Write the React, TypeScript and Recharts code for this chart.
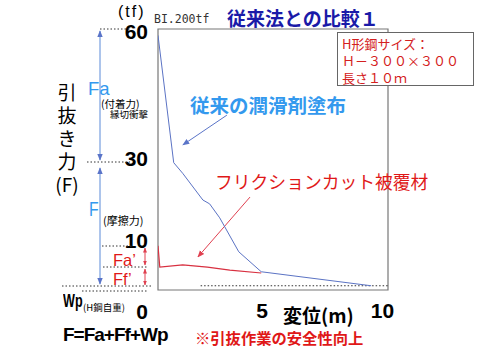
import React from 'react';
import { ComposedChart, Line, XAxis, YAxis, ReferenceArea, ReferenceLine } from 'recharts';

// 変位(m) / 引抜き力(tf) の読み取り値
const conventionalX = [0, 0.7, 1.1, 2.0, 2.3, 2.75, 3.6, 4.6, 9.5];
const conventionalY = [59, 29, 26.5, 20.2, 19.3, 16, 8, 3.3, 0];
const frictionCutX = [0, 0.08, 1.1, 2.2, 3.2, 4.6];
const frictionCutY = [9.4, 4.4, 4.9, 4.4, 3.7, 3.0];
const xTicks = [5, 10];
const yTicks = [0, 10, 30, 60];

const conventionalData = conventionalX.map((x, i) => ({ x, y: conventionalY[i] }));
const frictionCutData = frictionCutX.map((x, i) => ({ x, y: frictionCutY[i] }));

const JP = '"Noto Sans CJK JP", "Noto Sans", sans-serif';
const NUM = '"Liberation Sans", Arial, sans-serif';
const RED = '#e01818';
const SKY = '#3399ee';

const T = ({ x, y, size, color = '#000', bold = false, font = JP, style = {}, children }: any) => (
  <div
    style={{
      position: 'absolute',
      left: x,
      top: y,
      fontSize: size,
      color,
      fontWeight: bold ? 700 : 400,
      lineHeight: 1,
      whiteSpace: 'nowrap',
      fontFamily: font,
      ...style,
    }}
  >
    {children}
  </div>
);

const renderYTick = (props: any) => {
  const { x, y, payload } = props;
  // 0 は H鋼自重の下に表示されている
  const shift = payload.value === 0 ? 26 : payload.value === 10 ? -3 : 0;
  return (
    <text x={x} y={y + shift} dy="0.355em" textAnchor="end" fontSize={21} fontWeight={600} fontFamily={NUM} fill="#000">
      {payload.value}
    </text>
  );
};

const renderXTick = (props: any) => {
  const { x, y, payload } = props;
  const dx = payload.value === 5 ? -8 : 0;
  return (
    <text x={x + dx} y={y + 20} textAnchor="middle" fontSize={21} fontWeight={600} fontFamily={NUM} fill="#000">
      {payload.value}
    </text>
  );
};

export default function App() {
  return (
    <div style={{ position: 'absolute', left: 0, top: 0, width: 480, height: 360, background: '#fff' }}>
      <ComposedChart width={480} height={360} margin={{ top: 29, right: 92, bottom: 40, left: 98 }}>
        <XAxis
          dataKey="x"
          type="number"
          domain={[0, 10.25]}
          ticks={xTicks}
          height={30}
          axisLine={false}
          tickLine={false}
          tick={renderXTick}
          allowDataOverflow
        />
        <YAxis
          type="number"
          domain={[-1, 60.5]}
          ticks={yTicks}
          width={60}
          axisLine={false}
          tickLine={false}
          tickMargin={4}
          tick={renderYTick}
          allowDataOverflow
        />
        <ReferenceArea x1={0} x2={10.25} y1={-1} y2={60.5} fill="none" stroke="#777" strokeWidth={1.2} />
        <ReferenceLine
          segment={[{ x: 1.9, y: 0 }, { x: 10.25, y: 0 }]}
          stroke="#333"
          strokeDasharray="1.5 2"
        />
        <ReferenceLine
          segment={[{ x: 3.07, y: 40.2 }, { x: 1.11, y: 33.2 }]}
          stroke="#5a74c8"
          markerEnd="url(#arrBlue)"
        />
        <ReferenceLine
          segment={[{ x: 4.1, y: 20.9 }, { x: 1.78, y: 6.8 }]}
          stroke="#e04050"
          markerEnd="url(#arrRed)"
        />
        <Line
          data={conventionalData}
          dataKey="y"
          type="linear"
          stroke="#5b73c4"
          strokeWidth={1}
          dot={false}
          isAnimationActive={false}
        />
        <Line
          data={frictionCutData}
          dataKey="y"
          type="linear"
          stroke="#d83040"
          strokeWidth={1.2}
          dot={false}
          isAnimationActive={false}
        />
      </ComposedChart>

      <svg width={480} height={360} style={{ position: 'absolute', left: 0, top: 0, pointerEvents: 'none' }}>
        <defs>
          <marker id="arrBlue" viewBox="0 0 10 10" refX="9" refY="5" markerWidth="7" markerHeight="7" orient="auto-start-reverse">
            <path d="M0,1 L10,5 L0,9 z" fill="#5a74c8" />
          </marker>
          <marker id="arrRed" viewBox="0 0 10 10" refX="9" refY="5" markerWidth="7" markerHeight="7" orient="auto-start-reverse">
            <path d="M0,1 L10,5 L0,9 z" fill="#e04050" />
          </marker>
          <marker id="arrSmall" viewBox="0 0 10 10" refX="9" refY="5" markerWidth="5" markerHeight="5" orient="auto-start-reverse">
            <path d="M0,1 L10,5 L0,9 z" fill="#e04050" />
          </marker>
        </defs>
        <g stroke="#333" strokeDasharray="1.5 2" strokeWidth={1}>
          <line x1={100} y1={29} x2={130} y2={29} />
          <line x1={87} y1={162} x2={130} y2={162} />
          <line x1={102} y1={246} x2={133} y2={246} />
          <line x1={103} y1={267} x2={147} y2={267} />
          <line x1={62} y1={286} x2={153} y2={286} />
          <line x1={82} y1={291} x2={148} y2={291} />
        </g>
        <line x1={100} y1={31} x2={100} y2={160} stroke="#5a8ad8" markerStart="url(#arrBlue)" markerEnd="url(#arrBlue)" />
        <line x1={100} y1={168} x2={100} y2={284} stroke="#5a8ad8" markerStart="url(#arrBlue)" markerEnd="url(#arrBlue)" />
        <line x1={145} y1={248} x2={145} y2={265} stroke="#e04050" markerStart="url(#arrSmall)" markerEnd="url(#arrSmall)" />
        <line x1={145} y1={269} x2={145} y2={285} stroke="#e04050" markerStart="url(#arrSmall)" markerEnd="url(#arrSmall)" />
      </svg>

      <T x={118} y={4} size={16} font={NUM} style={{ letterSpacing: 2 }}>(tf)</T>
      <T x={154} y={14} size={11.5} color="#333" font='"DejaVu Sans Mono", monospace'>BI.200tf</T>
      <T x={227} y={8} size={19} bold color="#1a1aa8">従来法との比較１</T>

      <div
        style={{
          position: 'absolute',
          left: 337,
          top: 32,
          width: 131,
          height: 50,
          border: '1px solid #666',
          background: '#fff',
          padding: '2px 0 0 4px',
          color: '#d42020',
          fontFamily: JP,
          fontSize: 13,
          lineHeight: '17px',
          whiteSpace: 'nowrap',
        }}
      >
        H形鋼サイズ：
        <br />
        Ｈ－３００×３００
        <br />
        長さ１０ｍ
      </div>

      <T x={190} y={95} size={19.5} bold color={SKY}>従来の潤滑剤塗布</T>
      <T x={215} y={173} size={17.8} color={RED}>フリクションカット被覆材</T>

      <T x={55} y={80} size={19} style={{ lineHeight: '23px', textAlign: 'center', width: 24 }}>
        引<br />抜<br />き<br />力<br />(F)
      </T>
      <T x={88} y={80} size={18.5} color={SKY} font={NUM}>Fa</T>
      <T x={101} y={99} size={10.5}>(付着力)</T>
      <T x={110} y={110} size={9.5}>縁切衝撃</T>
      <T x={89} y={198} size={21} color={SKY} font={NUM} style={{ transform: 'scaleX(0.75)', transformOrigin: 'left top' }}>F</T>
      <T x={103} y={215} size={11}>(摩擦力)</T>
      <T x={113} y={252} size={16.5} color={RED} font={NUM}>Fa’</T>
      <T x={113} y={271} size={16.5} color={RED} font={NUM}>Ff’</T>
      <T x={63} y={292} size={18} bold font={NUM} style={{ transform: 'scaleX(0.7)', transformOrigin: 'left top' }}>Wp</T>
      <T x={83} y={303} size={9.5}>(H鋼自重)</T>
      <T x={63} y={325} size={19} bold font={NUM} style={{ letterSpacing: -1 }}>F=Fa+Ff+Wp</T>
      <T x={283} y={305} size={19} bold>変位(m)</T>
      <T x={195} y={330} size={15.3} bold color={RED}>※引抜作業の安全性向上</T>
    </div>
  );
}
